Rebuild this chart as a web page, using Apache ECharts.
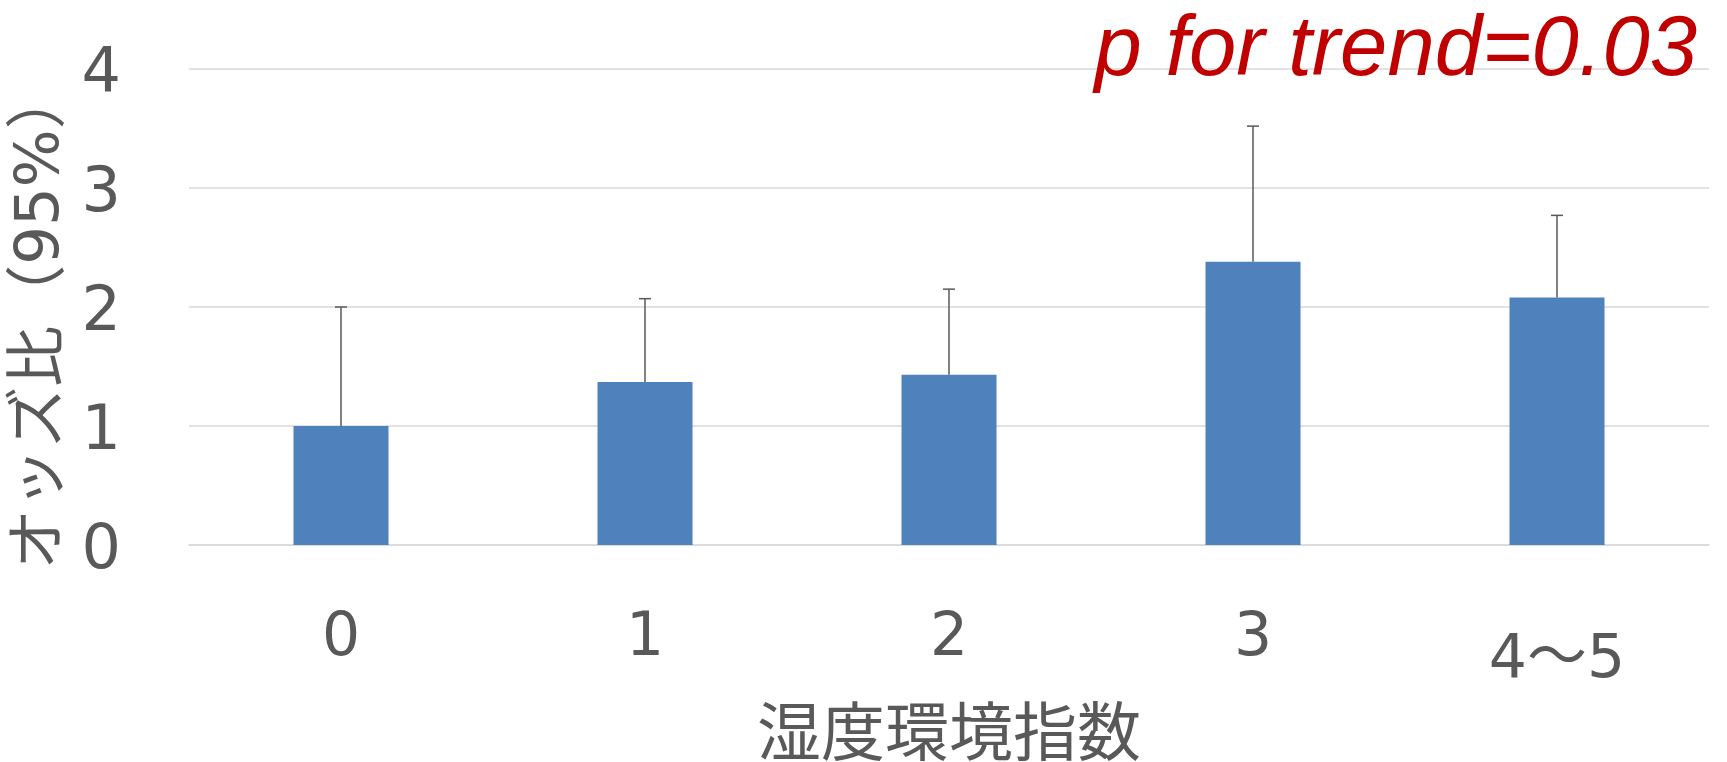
<!DOCTYPE html>
<html>
<head>
<meta charset="utf-8">
<script src="https://cdn.jsdelivr.net/npm/echarts@6/dist/echarts.min.js"></script>
<style>
  html, body { margin: 0; padding: 0; background: #ffffff; }
  #chart { width: 1727px; height: 762px; }
</style>
</head>
<body>
<div id="chart"></div>
<script>
// Humidity environment index groups
const categories = ['0', '1', '2', '3', '4～5'];
// Odds ratios per group
const oddsRatios = [1.00, 1.37, 1.43, 2.38, 2.08];
// Upper limit of the 95% confidence interval
const ciUpper = [2.00, 2.07, 2.15, 3.52, 2.77];
// Value-axis ticks
const yTicks = [0, 1, 2, 3, 4];

const textColor = '#595959';
const latinCjk = '"DejaVu Sans", "Noto Sans CJK JP", sans-serif';

const chart = echarts.init(document.getElementById('chart'), null, { renderer: 'canvas' });

const option = {
  animation: false,
  backgroundColor: '#ffffff',
  title: {
    text: 'p for trend=0.03',
    right: 25,
    top: 4,
    textStyle: {
      color: '#C00000',
      fontFamily: '"Liberation Sans", Arial, sans-serif',
      fontStyle: 'italic',
      fontWeight: 'normal',
      fontSize: 85
    }
  },
  grid: { left: 189, right: 18, top: 69, bottom: 217, outerBoundsMode: 'none' },
  xAxis: {
    type: 'category',
    data: categories.map((c, i) => i === categories.length - 1
      ? { value: c, textStyle: { padding: [22, 0, 0, 0] } }
      : c),
    name: '湿度環境指数',
    nameLocation: 'middle',
    nameGap: 161,
    nameMoveOverlap: false,
    nameTextStyle: { color: textColor, fontSize: 64, fontFamily: latinCjk },
    axisLine: { show: true, lineStyle: { color: '#d9d9d9', width: 1.5 } },
    axisTick: { show: false },
    axisLabel: { color: textColor, fontSize: 60, margin: 64, fontFamily: latinCjk }
  },
  yAxis: {
    type: 'value',
    min: yTicks[0],
    max: yTicks[yTicks.length - 1],
    interval: 1,
    name: 'オッズ比（95%）',
    nameLocation: 'middle',
    nameGap: 116,
    nameMoveOverlap: false,
    nameTextStyle: { color: textColor, fontSize: 61, fontFamily: latinCjk, padding: [0, 24, 0, 0] },
    axisLine: { show: false },
    axisTick: { show: false },
    axisLabel: {
      margin: 68,
      formatter: '{v|{value}}',
      rich: {
        v: { color: textColor, fontSize: 62, fontFamily: latinCjk, padding: [14, 0, 0, 0] }
      }
    },
    splitLine: { lineStyle: { color: '#d9d9d9', width: 1.5 } }
  },
  series: [
    {
      type: 'bar',
      data: oddsRatios,
      barWidth: 95,
      itemStyle: { color: '#4F81BD' },
      z: 2
    },
    {
      type: 'custom',
      data: categories.map((c, i) => [i, oddsRatios[i], ciUpper[i]]),
      encode: { x: 0, y: [1, 2] },
      z: 3,
      renderItem: function (params, api) {
        const base = api.coord([api.value(0), api.value(1)]);
        const top = api.coord([api.value(0), api.value(2)]);
        const half = 6;
        const style = { stroke: '#595959', lineWidth: 1.5 };
        return {
          type: 'group',
          children: [
            { type: 'line', shape: { x1: base[0], y1: base[1], x2: top[0], y2: top[1] }, style: style },
            { type: 'line', shape: { x1: top[0] - half, y1: top[1], x2: top[0] + half, y2: top[1] }, style: style }
          ]
        };
      }
    }
  ]
};

chart.setOption(option);
</script>
</body>
</html>
